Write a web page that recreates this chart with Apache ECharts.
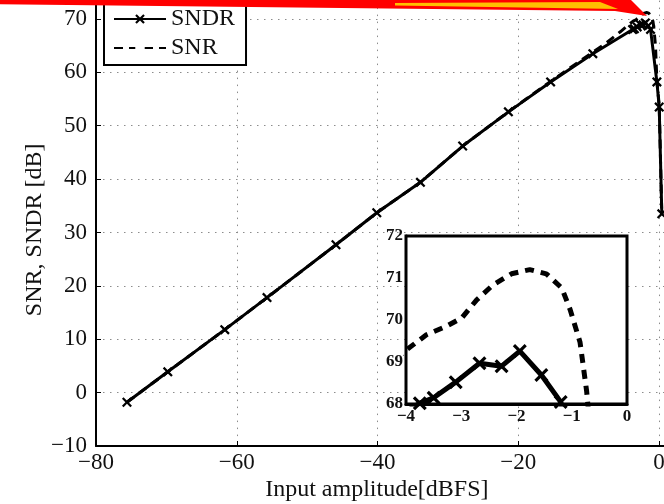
<!DOCTYPE html>
<html>
<head>
<meta charset="utf-8">
<script src="https://cdn.jsdelivr.net/npm/echarts@6/dist/echarts.min.js"></script>
<style>
  html, body { margin: 0; padding: 0; background: #fff; }
  #chart { width: 664px; height: 504px; }
</style>
</head>
<body>
<div id="chart"></div>
<script>
// measured data (x: input amplitude dBFS, y: dB)
var sndrX = [-75.6, -69.8, -61.7, -55.7, -45.9, -40.1, -33.9, -27.9, -21.4, -15.4, -9.4,
             -3.75, -3.5, -3.1, -2.67, -2.27, -1.94, -1.55, -1.2, -0.3, 0.03, 0.4];
var sndrY = [-1.8, 3.9, 11.8, 17.8, 27.7, 33.7, 39.4, 46.2, 52.6, 58.2, 63.5,
             68.02, 68.15, 68.52, 68.97, 68.9, 69.26, 68.69, 68.05, 58.2, 53.5, 33.5];

var snrX = [-75.6, -69.8, -61.7, -55.7, -45.9, -40.1, -33.9, -27.9, -21.4, -15.4, -9.4, -7.6, -5.5,
            -4.0, -3.63, -3.27, -2.99, -2.72, -2.43, -2.09, -1.76, -1.46, -1.18, -1.03, -0.85, -0.73,
            -0.5, -0.3, 0.03, 0.4];
var snrY = [-1.8, 3.9, 11.8, 17.8, 27.7, 33.7, 39.4, 46.2, 52.6, 58.3, 63.8, 65.4, 67.6,
            69.28, 69.65, 69.85, 70.05, 70.48, 70.83, 71.1, 71.2, 71.1, 70.76, 70.25, 69.47, 68.3,
            65.0, 58.5, 53.8, 33.5];

var xTicks = [-80, -60, -40, -20, 0];
var yTicks = [-10, 0, 10, 20, 30, 40, 50, 60, 70];
var insetXTicks = [-4, -3, -2, -1, 0];
var insetYTicks = [68, 69, 70, 71, 72];

function pairs(xs, ys) {
  return xs.map(function (x, i) { return [x, ys[i]]; });
}
function minus(v) { return String(v).replace('-', '\u2212'); }

var serif = '"Times New Roman", "Liberation Serif", serif';
var xMark = 'path://M0,1.6L1.6,0L5,3.4L8.4,0L10,1.6L6.6,5L10,8.4L8.4,10L5,6.6L1.6,10L0,8.4L3.4,5Z';

var chart = echarts.init(document.getElementById('chart'));

var dotted = { color: '#8c8c8c', width: 1, type: [1.5, 5.5] };

chart.setOption({
  animation: false,
  backgroundColor: '#fff',
  legend: {
    orient: 'vertical',
    left: 104,
    top: -14,
    padding: [21, 11, 5, 9],
    itemWidth: 52,
    itemHeight: 12,
    itemGap: 5,
    backgroundColor: '#fff',
    borderColor: '#000',
    borderWidth: 2,
    selectedMode: false,
    textStyle: { fontFamily: serif, fontSize: 24, color: '#111' },
    data: [
      'SNDR',
      { name: 'SNR', itemStyle: { color: 'rgba(0,0,0,0)', borderWidth: 0 } }
    ]
  },
  grid: [
    { left: 96, top: -34.4, width: 703.75, height: 480.4, outerBoundsMode: 'none' },
    { left: 406, top: 236, width: 221, height: 168, show: true, outerBoundsMode: 'none',
      backgroundColor: '#fff', borderColor: '#000', borderWidth: 3, z: 5 }
  ],
  xAxis: [
    {
      gridIndex: 0, type: 'value', min: -80, max: 20, interval: 20,
      name: 'Input amplitude[dBFS]', nameLocation: 'middle', nameGap: 32, nameMoveOverlap: false,
      nameTextStyle: { fontFamily: serif, fontSize: 24, color: '#111', padding: [0, 142, 0, 0] },
      axisLine: { show: true, onZero: false, lineStyle: { color: '#000', width: 2 } },
      axisTick: { show: true, inside: true, length: 5, lineStyle: { color: '#000' } },
      axisLabel: { fontFamily: serif, fontSize: 23, color: '#111', margin: 5,
        formatter: function (v) { return xTicks.indexOf(v) >= 0 ? minus(v) : ''; } },
      splitLine: { show: true, lineStyle: dotted }
    },
    {
      gridIndex: 1, type: 'value', min: -4, max: 0, interval: 1,
      axisLine: { show: true, onZero: false, lineStyle: { color: '#000', width: 3 } },
      axisTick: { show: false },
      axisLabel: { fontFamily: serif, fontSize: 17, fontWeight: 'bold', color: '#111', margin: 4,
        formatter: function (v) { return insetXTicks.indexOf(v) >= 0 ? minus(v) : ''; } },
      splitLine: { show: true, lineStyle: dotted }
    }
  ],
  yAxis: [
    {
      gridIndex: 0, type: 'value', min: -10, max: 80, interval: 10,
      name: 'SNR, SNDR [dB]', nameLocation: 'middle', nameGap: 49, nameMoveOverlap: false,
      nameTextStyle: { fontFamily: serif, fontSize: 24, color: '#111', padding: [0, 48, 0, 0] },
      axisLine: { show: true, onZero: false, lineStyle: { color: '#000', width: 2 } },
      axisTick: { show: true, inside: true, length: 5, lineStyle: { color: '#000' } },
      axisLabel: { fontFamily: serif, fontSize: 23, color: '#111', margin: 9,
        formatter: function (v) { return yTicks.indexOf(v) >= 0 ? minus(v) : ''; } },
      splitLine: { show: true, lineStyle: dotted }
    },
    {
      gridIndex: 1, type: 'value', min: 68, max: 72, interval: 1,
      axisLine: { show: true, onZero: false, lineStyle: { color: '#000', width: 3 } },
      axisTick: { show: false },
      axisLabel: { fontFamily: serif, fontSize: 17, fontWeight: 'bold', color: '#111', margin: 3,
        formatter: function (v) { return insetYTicks.indexOf(v) >= 0 ? minus(v) : ''; } },
      splitLine: { show: true, lineStyle: dotted }
    }
  ],
  series: [
    {
      name: 'SNR', type: 'line', xAxisIndex: 0, yAxisIndex: 0,
      data: pairs(snrX, snrY), showSymbol: false,
      lineStyle: { color: '#000', width: 3, type: [9, 6] },
      itemStyle: { color: '#000' }, z: 3
    },
    {
      name: 'SNDR', type: 'line', xAxisIndex: 0, yAxisIndex: 0,
      data: pairs(sndrX, sndrY), symbol: xMark, symbolSize: 10,
      lineStyle: { color: '#000', width: 3 },
      itemStyle: { color: '#000' }, z: 4
    },
    {
      name: 'SNR', type: 'line', xAxisIndex: 1, yAxisIndex: 1,
      data: pairs(snrX, snrY), showSymbol: false, clip: true,
      lineStyle: { color: '#000', width: 5, type: [9, 7] },
      itemStyle: { color: '#000' }, z: 6
    },
    {
      name: 'SNDR', type: 'line', xAxisIndex: 1, yAxisIndex: 1,
      data: pairs(sndrX, sndrY), symbol: xMark, symbolSize: 14, clip: true,
      lineStyle: { color: '#000', width: 5 },
      itemStyle: { color: '#000' }, z: 6
    }
  ],
  graphic: [
    {
      type: 'polygon', z: 100,
      shape: { points: [[-20, -1], [630, -1], [647, 16], [615, 11], [-20, 4]] },
      style: { fill: '#ff0000' }
    },
    {
      type: 'polygon', z: 101,
      shape: { points: [[395, 3], [600, 2], [618, 9], [395, 5.5]] },
      style: { fill: '#ffc000' }
    }
  ]
});
</script>
</body>
</html>
